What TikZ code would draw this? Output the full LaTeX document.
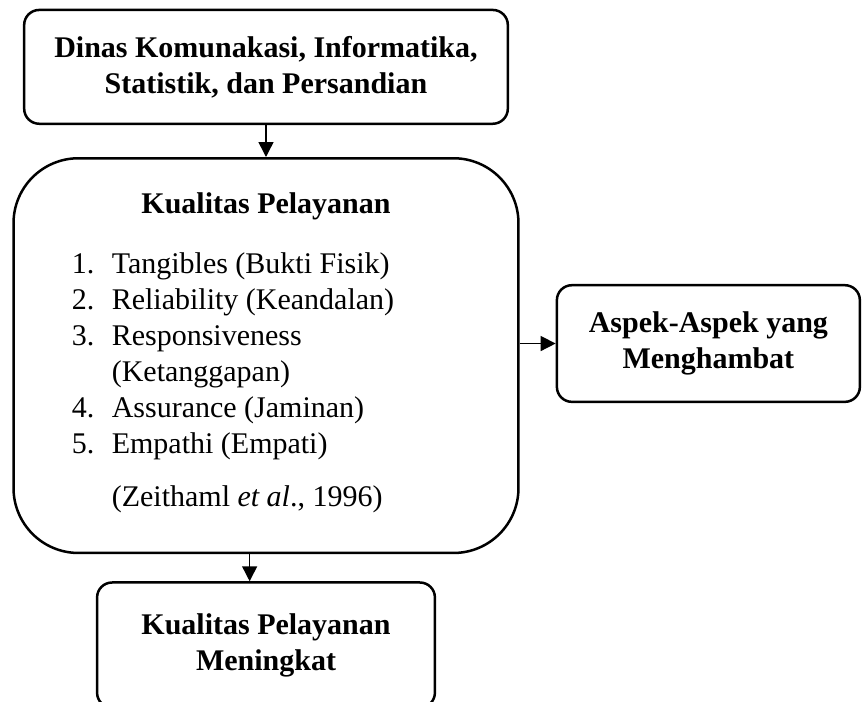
\documentclass[tikz,border=0pt]{standalone}
\usepackage{fontspec}
\setmainfont{Liberation Serif}
\usetikzlibrary{arrows.meta,positioning}

\begin{document}
\begin{tikzpicture}[
  box/.style={draw=black,line width=1pt,rounded corners=6pt,align=center,
              font=\fontsize{12}{14.4}\selectfont\bfseries},
  bigbox/.style={draw=black,line width=1pt,rounded corners=26pt,
                 minimum width=7.10cm,minimum height=5.55cm},
  body/.style={inner sep=0pt,align=left,font=\fontsize{12}{14.4}\selectfont},
  link/.style={draw=black,line width=0.6pt,-{Triangle[length=6pt,width=6pt]}}
]
  \useasboundingbox (0,0) rectangle (12.12,-9.87);

  %% ---- Dinas (top) ----
  \node[box,minimum width=6.80cm,minimum height=1.60cm] (agency) at (3.74,-0.94) {
    Dinas Komunakasi, Informatika,\\
    Statistik, dan Persandian
  };

  %% ---- Kualitas Pelayanan (big rounded box) ----
  \node[bigbox] (quality) at (3.74,-5.00) {};
  \node[body,font=\fontsize{12}{14.4}\selectfont\bfseries,anchor=base]
    (qtitle) at ([yshift=-0.80cm]quality.north) {Kualitas Pelayanan};
  \node[body,anchor=north west] (qitems) at ([xshift=0.83cm,yshift=-1.34cm]quality.north west) {
    \makebox[16pt][l]{1.}Tangibles (Bukti Fisik)\\
    \makebox[16pt][l]{2.}Reliability (Keandalan)\\
    \makebox[16pt][l]{3.}Responsiveness\\
    \hspace*{16pt}(Ketanggapan)\\
    \makebox[16pt][l]{4.}Assurance (Jaminan)\\
    \makebox[16pt][l]{5.}Empathi (Empati)\\[6.8pt]
    \hspace*{16pt}(Zeithaml \textit{et al}., 1996)
  };

  %% ---- Aspek (right) ----
  \node[box,minimum width=4.26cm,minimum height=1.64cm] (barrier) at (9.96,-4.83) {
    Aspek-Aspek yang\\
    Menghambat
  };

  %% ---- Hasil (bottom, cut by the page edge) ----
  \node[box,minimum width=4.75cm,minimum height=1.76cm] (result) at (3.74,-9.07) {
    Kualitas Pelayanan\\
    Meningkat
  };

  %% ---- Arrows ----
  \draw[link] (agency.south) -- (quality.north);
  \draw[link] (quality.east |- barrier.west) -- (barrier.west);
  \coordinate (drop) at ([xshift=-0.23cm]quality.south);
  \draw[link] (drop) -- (drop |- result.north);
\end{tikzpicture}
\end{document}
